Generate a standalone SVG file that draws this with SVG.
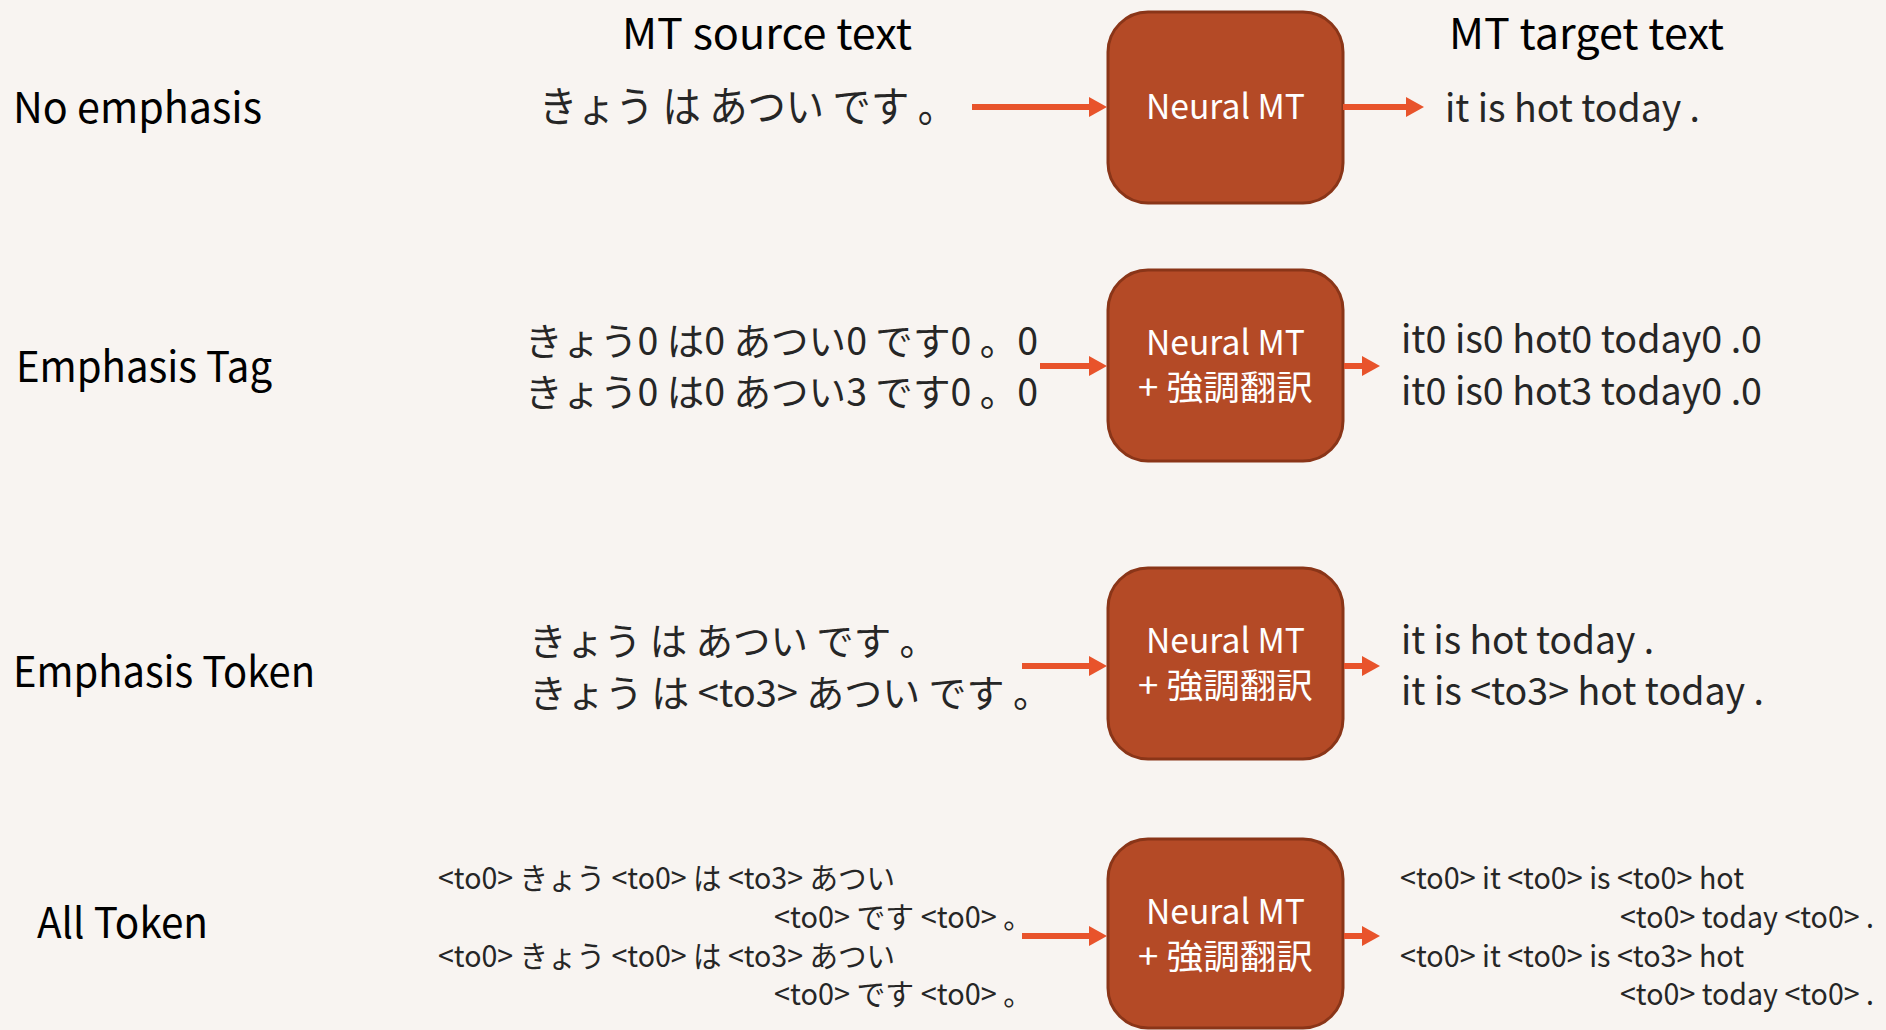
<svg xmlns="http://www.w3.org/2000/svg" width="1886" height="1030" viewBox="0 0 1886 1030">
  <defs>
    <style>
      text { font-family: "Noto Sans CJK JP", "Noto Sans", sans-serif; }
      .head { font-size: 42px; fill: #000; }
      .label { font-size: 42px; fill: #000; }
      .src1 { font-size: 42px; fill: #262626; }
      .src { font-size: 38px; fill: #262626; }
      .tgt { font-size: 38px; fill: #262626; }
      .small { font-size: 30px; fill: #262626; }
      .mt { font-size: 34px; fill: #fff; text-anchor: middle; }
      .box { fill: #B44A26; stroke: #8A3518; stroke-width: 3; }
      .arrow { stroke: #E8532B; stroke-width: 6; fill: none; marker-end: url(#head); }
    </style>
    <marker id="head" markerUnits="userSpaceOnUse" markerWidth="18" markerHeight="20" refX="2" refY="10" orient="auto" overflow="visible">
      <path d="M0,0 L18,10 L0,20 Z" fill="#E8532B"/>
    </marker>
  </defs>

  <rect width="1886" height="1030" fill="#F8F4F1"/>

  <!-- column headings -->
  <g id="headings">
    <text class="head" x="622" y="49" textLength="290" lengthAdjust="spacingAndGlyphs">MT source text</text>
    <text class="head" x="1449" y="49" textLength="275" lengthAdjust="spacingAndGlyphs">MT target text</text>
  </g>

  <!-- row labels -->
  <g id="labels">
    <text class="label" x="13" y="123" textLength="249" lengthAdjust="spacingAndGlyphs">No emphasis</text>
    <text class="label" x="16" y="382" textLength="256" lengthAdjust="spacingAndGlyphs">Emphasis Tag</text>
    <text class="label" x="13" y="687" textLength="302" lengthAdjust="spacingAndGlyphs">Emphasis Token</text>
    <text class="label" x="37" y="938" textLength="171" lengthAdjust="spacingAndGlyphs">All Token</text>
  </g>

  <!-- source sentences -->
  <g id="source-no-emphasis">
    <text class="src1" x="539" y="122" textLength="417" lengthAdjust="spacingAndGlyphs">きょう は あつい です 。</text>
  </g>
  <g id="source-tag">
    <text class="src" x="525" y="355" textLength="513" lengthAdjust="spacingAndGlyphs">きょう0 は0 あつい0 です0 。0</text>
    <text class="src" x="525" y="406" textLength="513" lengthAdjust="spacingAndGlyphs">きょう0 は0 あつい3 です0 。0</text>
  </g>
  <g id="source-token">
    <text class="src" x="529" y="655" textLength="408" lengthAdjust="spacingAndGlyphs">きょう は あつい です 。</text>
    <text class="src" x="529" y="707" textLength="522" lengthAdjust="spacingAndGlyphs">きょう は &lt;to3&gt; あつい です 。</text>
  </g>
  <g id="source-all-token">
    <text class="small" x="438" y="889" textLength="457" lengthAdjust="spacingAndGlyphs">&lt;to0&gt; きょう &lt;to0&gt; は &lt;to3&gt; あつい</text>
    <text class="small" x="774" y="928" textLength="258" lengthAdjust="spacingAndGlyphs">&lt;to0&gt; です &lt;to0&gt; 。</text>
    <text class="small" x="438" y="967" textLength="457" lengthAdjust="spacingAndGlyphs">&lt;to0&gt; きょう &lt;to0&gt; は &lt;to3&gt; あつい</text>
    <text class="small" x="774" y="1005" textLength="258" lengthAdjust="spacingAndGlyphs">&lt;to0&gt; です &lt;to0&gt; 。</text>
  </g>

  <!-- translation models -->
  <g id="nmt-plain">
    <rect class="box" x="1108" y="12" width="235" height="191" rx="40" ry="40"/>
    <text class="mt" x="1225.5" y="119" textLength="159" lengthAdjust="spacingAndGlyphs">Neural MT</text>
  </g>
  <g id="nmt-tag">
    <rect class="box" x="1108" y="270" width="235" height="191" rx="40" ry="40"/>
    <text class="mt" x="1225.5" y="355" textLength="159" lengthAdjust="spacingAndGlyphs">Neural MT</text>
    <text class="mt" x="1225.5" y="400" textLength="175" lengthAdjust="spacingAndGlyphs">+ 強調翻訳</text>
  </g>
  <g id="nmt-token">
    <rect class="box" x="1108" y="568" width="235" height="191" rx="40" ry="40"/>
    <text class="mt" x="1225.5" y="653" textLength="159" lengthAdjust="spacingAndGlyphs">Neural MT</text>
    <text class="mt" x="1225.5" y="698" textLength="175" lengthAdjust="spacingAndGlyphs">+ 強調翻訳</text>
  </g>
  <g id="nmt-all-token">
    <rect class="box" x="1108" y="839" width="235" height="189" rx="40" ry="40"/>
    <text class="mt" x="1225.5" y="924" textLength="159" lengthAdjust="spacingAndGlyphs">Neural MT</text>
    <text class="mt" x="1225.5" y="969" textLength="175" lengthAdjust="spacingAndGlyphs">+ 強調翻訳</text>
  </g>

  <!-- target sentences -->
  <g id="target-no-emphasis">
    <text class="tgt" x="1445" y="122" textLength="255" lengthAdjust="spacingAndGlyphs">it is hot today .</text>
  </g>
  <g id="target-tag">
    <text class="tgt" x="1401" y="353" textLength="361" lengthAdjust="spacingAndGlyphs">it0 is0 hot0 today0 .0</text>
    <text class="tgt" x="1401" y="405" textLength="361" lengthAdjust="spacingAndGlyphs">it0 is0 hot3 today0 .0</text>
  </g>
  <g id="target-token">
    <text class="tgt" x="1401" y="654" textLength="253" lengthAdjust="spacingAndGlyphs">it is hot today .</text>
    <text class="tgt" x="1401" y="705" textLength="363" lengthAdjust="spacingAndGlyphs">it is &lt;to3&gt; hot today .</text>
  </g>
  <g id="target-all-token">
    <text class="small" x="1400" y="889" textLength="344" lengthAdjust="spacingAndGlyphs">&lt;to0&gt; it &lt;to0&gt; is &lt;to0&gt; hot</text>
    <text class="small" x="1620" y="928" textLength="254" lengthAdjust="spacingAndGlyphs">&lt;to0&gt; today &lt;to0&gt; .</text>
    <text class="small" x="1400" y="967" textLength="344" lengthAdjust="spacingAndGlyphs">&lt;to0&gt; it &lt;to0&gt; is &lt;to3&gt; hot</text>
    <text class="small" x="1620" y="1005" textLength="254" lengthAdjust="spacingAndGlyphs">&lt;to0&gt; today &lt;to0&gt; .</text>
  </g>

  <!-- connectors -->
  <g id="connectors">
    <line class="arrow" x1="972" y1="107" x2="1091" y2="107"/>
    <line class="arrow" x1="1343" y1="107" x2="1408" y2="107"/>
    <line class="arrow" x1="1040" y1="366" x2="1091" y2="366"/>
    <line class="arrow" x1="1344" y1="366" x2="1364" y2="366"/>
    <line class="arrow" x1="1022" y1="666" x2="1091" y2="666"/>
    <line class="arrow" x1="1344" y1="666" x2="1364" y2="666"/>
    <line class="arrow" x1="1022" y1="936" x2="1091" y2="936"/>
    <line class="arrow" x1="1344" y1="936" x2="1364" y2="936"/>
  </g>
</svg>
